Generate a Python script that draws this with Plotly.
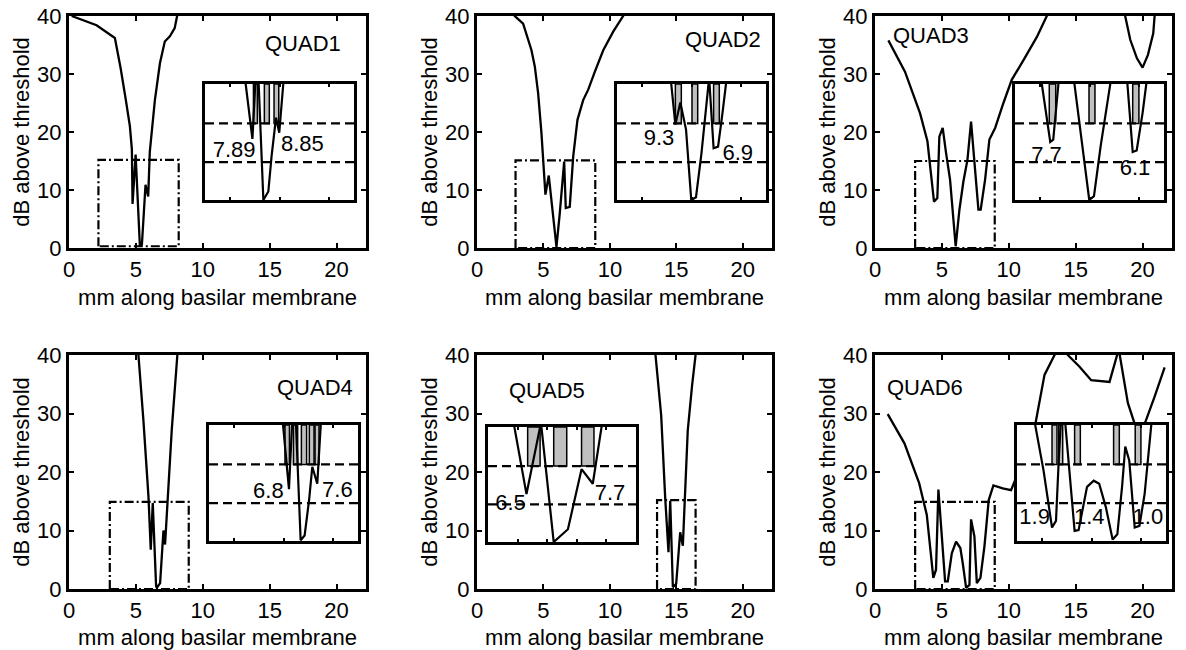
import plotly.graph_objects as go

W, H = 1186, 650

# ---------------- main curves (mm, dB) ----------------
x1 = [0.2, 2.06, 3.43, 3.86, 4.25, 4.55, 4.7, 4.75, 4.98, 5.3, 5.45, 5.72, 5.92, 6.04, 6.42, 6.8, 7.16, 7.54, 7.9, 8.08, 8.15]
y1 = [40.0, 38.4, 36.2, 31.0, 25.5, 21.0, 17.0, 7.6, 16.1, 0.3, 0.6, 10.9, 8.9, 16.6, 25.5, 31.9, 35.6, 36.5, 37.9, 40.0, 42.0]

x2 = [2.6, 2.84, 3.47, 4.1, 4.35, 4.6, 4.85, 5.15, 5.4, 5.6, 5.98, 6.23, 6.56, 6.68, 6.98, 7.24, 7.56, 7.99, 8.37, 8.87, 9.5, 10.25, 11.0, 11.3]
y2 = [41.5, 40.0, 38.7, 34.1, 31.3, 26.7, 19.8, 9.2, 12.5, 8.3, 0.2, 6.0, 14.9, 6.9, 7.1, 15.8, 22.1, 25.5, 27.3, 30.4, 34.1, 37.3, 40.0, 41.5]

x3 = [1.0, 2.24, 3.37, 3.92, 4.41, 4.66, 4.81, 5.06, 5.31, 5.61, 6.03, 6.31, 6.61, 6.91, 7.18, 7.48, 7.73, 7.9, 8.23, 8.55, 8.98, 9.6, 10.22, 11.1, 12.1, 12.84, 14.0, 18.0, 18.7, 19.08, 19.58, 20.0, 20.4, 20.8, 20.9, 21.2]
y3 = [35.8, 30.4, 23.2, 18.4, 8.0, 8.6, 19.2, 20.7, 16.4, 11.8, 0.3, 6.6, 11.5, 15.2, 21.8, 13.8, 6.6, 6.6, 11.8, 18.7, 20.7, 25.0, 29.0, 32.4, 36.4, 40.0, 45.0, 45.0, 40.0, 35.9, 32.7, 31.1, 33.3, 37.0, 40.0, 45.0]

x4 = [5.1, 5.19, 5.56, 5.94, 6.11, 6.26, 6.51, 6.56, 6.81, 7.06, 7.18, 7.36, 7.68, 8.1, 8.2]
y4 = [42.0, 40.0, 28.9, 15.8, 6.7, 14.7, 0.5, 0.2, 1.0, 10.0, 7.6, 14.7, 27.2, 40.0, 42.0]

x5 = [13.35, 13.43, 13.86, 14.16, 14.41, 14.54, 14.74, 14.99, 15.29, 15.49, 15.61, 15.86, 16.19, 16.49, 16.55]
y5 = [42.0, 40.0, 29.7, 15.7, 6.3, 15.1, 0.3, 0.9, 9.7, 7.4, 14.0, 27.1, 34.9, 40.0, 42.0]

x6 = [0.95, 2.2, 3.3, 3.87, 4.36, 4.56, 4.74, 5.06, 5.24, 5.44, 5.74, 6.06, 6.38, 6.56, 6.81, 7.06, 7.18, 7.43, 7.61, 7.88, 8.18, 8.5, 8.85, 9.55, 10.17, 10.9, 11.97, 12.67, 13.42, 13.9, 14.41, 15.29, 16.16, 17.53, 18.15, 18.22, 18.9, 19.4, 19.8, 20.2, 20.9, 21.65]
y6 = [29.9, 24.9, 18.1, 12.7, 1.9, 3.3, 17.0, 5.9, 1.3, 1.3, 6.1, 8.1, 7.0, 4.4, 0.2, 0.7, 11.9, 9.0, 1.0, 1.9, 7.3, 15.2, 17.7, 17.2, 16.9, 21.0, 28.0, 36.6, 40.0, 41.5, 40.0, 38.0, 35.7, 35.4, 40.0, 41.0, 31.8, 28.3, 27.8, 28.5, 32.9, 37.9]

main_x = [x1, x2, x3, x4, x5, x6]
main_y = [y1, y2, y3, y4, y5, y6]

# dashed zoom boxes in the main panels: [x0, x1], [y0, y1]
box_x = [[2.2, 8.2], [2.9, 8.9], [3.0, 8.95], [3.05, 8.95], [13.55, 16.45], [3.0, 8.95]]
box_y = [[0.3, 15.2], [0.0, 15.1], [0.0, 15.0], [0.0, 14.9], [0.0, 15.2], [0.0, 14.9]]

quad_labels = ["QUAD1", "QUAD2", "QUAD3", "QUAD4", "QUAD5", "QUAD6"]
quad_x = [17.5, 18.5, 4.2, 18.4, 5.3, 3.7]
quad_y = [35.3, 35.9, 36.7, 34.4, 34.0, 34.5]

# ---------------- inset data ----------------
inset_xrange = [[2, 8], [3, 9], [3, 9], [3, 9], [13.5, 16.0], [3, 9]]
inset_ticks = [[3, 5, 7], [4, 6, 8], [4, 6, 8], [4, 6, 8], [14, 14.5, 15, 15.5], [4, 6, 8]]
inset_yrange = [0, 15]
dash_levels = [4.9, 9.9]

ix1 = [3.58, 3.91, 4.04, 4.15, 4.35, 4.55, 4.68, 4.86, 4.99, 5.18]
iy1 = [16.5, 7.9, 15.9, 15.9, 0.0, 1.1, 5.65, 10.65, 8.7, 16.1]
ix2 = [5.15, 5.35, 5.55, 5.78, 5.99, 6.18, 6.4, 6.71, 6.89, 7.07, 7.25, 7.43]
iy2 = [16.1, 9.75, 12.6, 9.1, 0.0, 0.35, 6.0, 15.8, 6.7, 6.9, 11.3, 16.1]
ix3 = [4.03, 4.42, 4.54, 4.78, 5.08, 5.35, 5.99, 6.18, 6.45, 6.62, 6.89, 7.2, 7.5, 7.74, 7.9, 8.14, 8.33]
iy3 = [16.1, 7.5, 7.8, 16.1, 17.0, 16.1, 0.0, 0.5, 7.0, 10.4, 16.1, 17.0, 16.1, 6.2, 6.4, 11.3, 16.1]
ix4 = [5.95, 6.22, 6.36, 6.49, 6.69, 6.85, 7.03, 7.16, 7.36, 7.52]
iy4 = [16.1, 6.7, 16.1, 16.1, 0.1, 0.7, 5.3, 9.6, 7.4, 16.1]
ix5 = [13.92, 14.15, 14.38, 14.39, 14.61, 14.85, 15.08, 15.27, 15.44]
iy5 = [16.1, 6.25, 15.0, 15.9, 0.0, 1.66, 9.5, 7.6, 16.1]
ix6 = [3.67, 4.07, 4.41, 4.57, 4.68, 4.78, 4.92, 5.32, 5.48, 5.82, 6.09, 6.31, 6.58, 6.85, 7.04, 7.23, 7.36, 7.52, 7.74, 7.93, 8.14, 8.44]
iy6 = [16.1, 9.1, 1.74, 2.6, 10.4, 16.1, 16.1, 1.3, 1.4, 7.0, 7.8, 7.4, 4.35, 0.2, 0.87, 7.0, 12.2, 10.4, 1.74, 1.96, 6.1, 16.1]
inset_x = [ix1, ix2, ix3, ix4, ix5, ix6]
inset_y = [iy1, iy2, iy3, iy4, iy5, iy6]

# gray bars (left, right edges in mm)
bars = [
    [[3.95, 4.11], [4.39, 4.59], [4.78, 4.97]],
    [[5.35, 5.59], [6.02, 6.25], [6.89, 7.12]],
    [[4.38, 4.64], [5.98, 6.22], [7.74, 7.99]],
    [[6.06, 6.24], [6.40, 6.57], [6.72, 6.93], [7.04, 7.23], [7.27, 7.43]],
    [[14.17, 14.38], [14.61, 14.83], [15.08, 15.29]],
    [[4.41, 4.61], [4.68, 4.84], [5.32, 5.55], [6.89, 7.12], [7.76, 7.99]],
]

inset_text = [["7.89", "8.85"], ["9.3", "6.9"], ["7.7", "6.1"], ["6.8", "7.6"], ["6.5", "7.7"], ["1.9", "1.4", "1.0"]]
inset_text_x = [[3.17, 5.92], [4.69, 7.86], [4.27, 7.83], [5.39, 8.17], [13.88, 15.56], [3.71, 5.91, 8.27]]
inset_text_y = [[6.3, 7.05], [7.8, 5.9], [5.65, 3.9], [6.27, 6.35], [4.85, 6.2], [2.96, 2.96, 2.96]]

# ---------------- layout geometry (pixels) ----------------
main_px = [(69, 366, 16, 248), (477, 772, 16, 248), (875, 1172, 16, 248),
           (69, 366, 355, 589), (477, 772, 355, 589), (875, 1172, 355, 589)]
inset_px = [(205, 354, 84, 200), (617, 766, 84, 200), (1015, 1164, 84, 200),
            (209, 358, 425, 541), (488, 636, 427, 542), (1017, 1166, 425, 541)]

FONT = "Liberation Sans, Arial, sans-serif"
FS = 22
fig = go.Figure()
layout = dict(width=W, height=H, margin=dict(l=0, r=0, t=0, b=0),
              paper_bgcolor="white", plot_bgcolor="white", showlegend=False,
              font=dict(family=FONT, size=FS, color="black"), shapes=[], annotations=[])

def xd(a, b):
    return [a / W, b / W]

def yd(t, b):
    return [1 - b / H, 1 - t / H]

for i in range(6):
    n = i + 1
    m = i + 7
    l, r, t, b = main_px[i]
    layout[f"xaxis{n}"] = dict(domain=xd(l, r), range=[0, 22.2], anchor=f"y{n}",
                               tickvals=[0, 5, 10, 15, 20], ticks="inside", ticklen=5, tickwidth=2,
                               tickcolor="black", showline=True, linewidth=3, linecolor="black",
                               mirror="ticks", showgrid=False, zeroline=False,
                               tickfont=dict(size=FS),
                               title=dict(text="mm along basilar membrane", font=dict(size=FS), standoff=9),
                               automargin=False)
    layout[f"yaxis{n}"] = dict(domain=yd(t, b), range=[0, 40], anchor=f"x{n}",
                               tickvals=[0, 10, 20, 30, 40], ticks="inside", ticklen=5, tickwidth=2,
                               tickcolor="black", showline=True, linewidth=3, linecolor="black",
                               mirror="ticks", showgrid=False, zeroline=False,
                               tickfont=dict(size=FS),
                               title=dict(text="dB above threshold", font=dict(size=FS), standoff=2),
                               automargin=False)
    l2, r2, t2, b2 = inset_px[i]
    layout[f"xaxis{m}"] = dict(domain=xd(l2, r2), range=inset_xrange[i], anchor=f"y{m}",
                               tickvals=inset_ticks[i], ticks="inside", ticklen=3, tickwidth=1.5,
                               tickcolor="black", showticklabels=False, showline=True, linewidth=3,
                               linecolor="black", mirror="ticks", showgrid=False, zeroline=False)
    layout[f"yaxis{m}"] = dict(domain=yd(t2, b2), range=inset_yrange, anchor=f"x{m}",
                               ticks="", showticklabels=False, showline=True, linewidth=3,
                               linecolor="black", mirror=True, showgrid=False, zeroline=False)

    xa, ya = f"x{n}", f"y{n}"
    xi, yi = f"x{m}", f"y{m}"

    # main curve
    fig.add_trace(go.Scatter(x=main_x[i], y=main_y[i], mode="lines", xaxis=xa, yaxis=ya,
                             line=dict(color="black", width=2.3)))
    # dashed box
    bx, by = box_x[i], box_y[i]
    fig.add_trace(go.Scatter(x=[bx[0], bx[0], bx[1], bx[1], bx[0]],
                             y=[by[0], by[1], by[1], by[0], by[0]],
                             mode="lines", xaxis=xa, yaxis=ya,
                             line=dict(color="black", width=2.2, dash="9px,3px,2px,3px")))
    layout["annotations"].append(
        dict(x=quad_x[i], y=quad_y[i], xref=xa, yref=ya, text=quad_labels[i], showarrow=False,
             font=dict(size=FS, color="black")))

    # inset white background
    layout["shapes"].append(dict(type="rect", xref=xi, yref=yi, layer="below",
                                 x0=inset_xrange[i][0], x1=inset_xrange[i][1],
                                 y0=inset_yrange[0], y1=inset_yrange[1],
                                 fillcolor="white", line=dict(width=0)))
    # bars
    bl = [p[0] for p in bars[i]]
    br = [p[1] for p in bars[i]]
    fig.add_trace(go.Bar(x=[(a + c) / 2 for a, c in zip(bl, br)], width=[c - a for a, c in zip(bl, br)],
                         base=[dash_levels[1]] * len(bl), y=[inset_yrange[1] - dash_levels[1]] * len(bl),
                         xaxis=xi, yaxis=yi, marker=dict(color="#c0c0c0", line=dict(color="black", width=1.5))))
    # dashed reference lines
    for lev in dash_levels:
        fig.add_trace(go.Scatter(x=inset_xrange[i], y=[lev, lev], mode="lines", xaxis=xi, yaxis=yi,
                                 line=dict(color="black", width=2.3, dash="9px,5px")))
    # labels
    fig.add_trace(go.Scatter(x=inset_text_x[i], y=inset_text_y[i], text=inset_text[i], mode="text",
                             xaxis=xi, yaxis=yi, textfont=dict(size=FS, color="black", family=FONT),
                             textposition="middle center"))
    # inset curve
    fig.add_trace(go.Scatter(x=inset_x[i], y=inset_y[i], mode="lines", xaxis=xi, yaxis=yi,
                             line=dict(color="black", width=2.2)))

fig.update_layout(**layout)
fig.update_layout(barmode="overlay")
fig.write_html("out.html")
